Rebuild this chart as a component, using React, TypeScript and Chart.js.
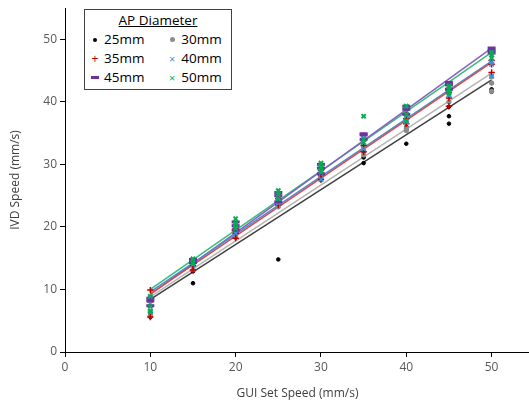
import React, { useEffect, useRef } from "react";
import { Chart, registerables } from "chart.js";

Chart.register(...registerables);

const SET_SPEEDS = [10, 15, 20, 25, 30, 35, 40, 45, 50];
const SERIES_NAMES = ["25mm", "30mm", "35mm", "40mm", "45mm", "50mm"];

// Measured IVD speeds (replicates) for each set speed
const D25 = [[5.6, 6.0, 8.2], [11.0, 12.9, 13.0], [18.3, 18.8, 19.0], [14.8, 23.5, 23.8], [27.5, 28.0], [30.2, 31.1, 32.0], [33.3, 35.5, 36.0], [36.5, 37.7, 39.2], [41.6, 42.0, 43.0]];
const D30 = [[5.8, 6.5, 8.5], [13.2, 13.8, 14.2], [18.5, 19.0, 19.5], [23.2, 23.8, 24.3], [27.5, 28.0, 28.5], [31.5, 32.5, 33.0], [35.4, 35.8, 36.8], [40.0, 40.8, 41.5], [41.7, 43.0, 44.0]];
const D35 = [[5.6, 8.0, 9.9], [13.1, 13.8, 14.5], [18.2, 19.0, 19.8], [23.5, 24.0, 24.5], [27.6, 28.2, 29.0], [32.0, 33.0, 33.8], [36.5, 37.3, 38.0], [39.3, 40.6, 41.5], [44.7, 46.0, 46.6]];
const D40 = [[6.5, 7.8, 8.6], [14.0, 14.5], [19.0, 19.8, 20.2], [23.8, 24.4, 25.0], [27.6, 28.5, 29.3], [32.5, 33.5, 34.2], [36.8, 37.8, 38.6], [41.0, 41.8, 42.5], [44.1, 46.0, 46.4]];
const D45 = [[7.4, 8.2, 8.6], [14.3, 14.8], [19.5, 20.2, 20.8], [24.0, 25.0, 25.5], [28.5, 29.4, 30.0], [34.0, 34.7, 34.9], [38.0, 38.8, 39.3], [42.0, 42.7, 43.1], [47.8, 48.2, 48.6]];
const D50 = [[6.5, 7.3, 8.9], [14.2, 14.9], [19.8, 20.5, 21.3], [24.5, 25.2, 25.8], [28.8, 29.5, 30.2], [33.5, 34.0, 37.7], [37.0, 38.0, 39.3], [41.4, 42.0, 42.5], [47.0, 47.5, 47.9]];

// Linear trendline values read at set speed 10 and 50
const TREND_X = [10, 50];
const TREND_AT_10 = [8.4, 8.8, 9.3, 9.6, 9.2, 10.0];
const TREND_AT_50 = [43.5, 44.6, 46.3, 46.5, 48.6, 47.9];

const X_TICKS = [0, 10, 20, 30, 40, 50];
const Y_TICKS = [0, 10, 20, 30, 40, 50];

const SERIES_DATA = [D25, D30, D35, D40, D45, D50];
const MARKER_COLORS = ["#000000", "#8c8c8c", "#c00000", "#3c8fdc", "#7030a0", "#00b050"];
const LINE_COLORS = ["#404040", "#b4b4b4", "#e04848", "#3c93d8", "#8462c2", "#3cba78"];
const MARKER_STYLES = ["circle", "circle", "cross", "crossRot", "line", "crossRot"];
const MARKER_RADII = [1.8, 2.2, 3.2, 3.2, 4, 3];
const MARKER_WIDTHS = [1, 1, 1.5, 1.5, 3, 2];

const FONT = "'Open Sans', 'Liberation Sans', sans-serif";

export default function App() {
  const ref = useRef<HTMLCanvasElement | null>(null);

  useEffect(() => {
    if (!ref.current) return;
    const datasets: any[] = [];
    SERIES_DATA.forEach((series, i) => {
      datasets.push({
        type: "line",
        label: SERIES_NAMES[i] + " trend",
        data: TREND_X.map((x, k) => ({ x, y: k === 0 ? TREND_AT_10[i] : TREND_AT_50[i] })),
        borderColor: LINE_COLORS[i],
        borderWidth: 1.5,
        pointRadius: 0,
        showLine: true,
        fill: false,
        order: 10 + i,
      });
    });
    SERIES_DATA.forEach((series, i) => {
      const pts: { x: number; y: number }[] = [];
      series.forEach((vals, k) => vals.forEach((v) => pts.push({ x: SET_SPEEDS[k], y: v })));
      datasets.push({
        type: "scatter",
        label: SERIES_NAMES[i],
        data: pts,
        pointStyle: MARKER_STYLES[i],
        pointRadius: MARKER_RADII[i],
        pointBorderWidth: MARKER_WIDTHS[i],
        borderColor: MARKER_COLORS[i],
        backgroundColor: MARKER_COLORS[i],
        showLine: false,
        order: 6 - i,
      });
    });

    const chart = new Chart(ref.current, {
      type: "scatter",
      data: { datasets },
      options: {
        animation: false,
        responsive: false,
        maintainAspectRatio: false,
        layout: { padding: { top: 8, right: 0, left: 0, bottom: 0 } },
        plugins: { legend: { display: false }, tooltip: { enabled: false } },
        scales: {
          x: {
            type: "linear",
            min: 0,
            max: 54.5,
            afterBuildTicks: (s: any) => {
              s.ticks = X_TICKS.map((v) => ({ value: v }));
            },
            afterFit: (s: any) => {
              s.height = 52;
              s.paddingRight = 0;
              s.paddingLeft = 0;
            },
            ticks: { color: "#595959", font: { family: FONT, size: 12 }, padding: 3 },
            grid: { display: true, drawOnChartArea: false, drawTicks: true, tickLength: 5, color: "#000" },
            border: { display: true, color: "#000", width: 1 },
            title: { display: true, text: "GUI Set Speed (mm/s)", color: "#404040", font: { family: FONT, size: 12 }, padding: { top: 2, bottom: 3 } },
          },
          y: {
            type: "linear",
            min: 0,
            max: 55,
            afterBuildTicks: (s: any) => {
              s.ticks = Y_TICKS.map((v) => ({ value: v }));
            },
            afterFit: (s: any) => {
              s.width = 65;
              s.paddingTop = 0;
              s.paddingBottom = 0;
            },
            ticks: { color: "#595959", font: { family: FONT, size: 12 }, padding: 3 },
            grid: { display: true, drawOnChartArea: false, drawTicks: true, tickLength: 5, color: "#000" },
            border: { display: true, color: "#000", width: 1 },
            title: { display: true, text: "IVD Speed (mm/s)", color: "#404040", font: { family: FONT, size: 12 }, padding: { top: 8, bottom: 4 } },
          },
        },
      },
    });
    return () => chart.destroy();
  }, []);

  const legendRows = [
    [0, 1],
    [2, 3],
    [4, 5],
  ];

  const markerEl = (i: number) => {
    const c = MARKER_COLORS[i];
    const st = MARKER_STYLES[i];
    if (st === "circle") {
      const d = i === 0 ? 4 : 5;
      return <span style={{ display: "inline-block", width: d, height: d, borderRadius: "50%", background: c }} />;
    }
    if (st === "line") {
      return <span style={{ display: "inline-block", width: 8, height: 3, background: c }} />;
    }
    return (
      <span style={{ color: c, fontSize: st === "cross" ? 12 : 11, fontFamily: FONT, lineHeight: "10px" }}>
        {st === "cross" ? "+" : "×"}
      </span>
    );
  };

  return (
    <div style={{ position: "fixed", left: 0, top: 0, width: 529, height: 404, background: "#fff", overflow: "hidden" }}>
      <canvas ref={ref} width={537} height={404} style={{ width: 537, height: 404, display: "block" }} />
      <div
        style={{
          position: "absolute",
          left: 84,
          top: 9,
          width: 146,
          height: 79,
          border: "1px solid #404040",
          background: "#fff",
          fontFamily: FONT,
          fontSize: 13.5,
          color: "#000",
        }}
      >
        <div style={{ textAlign: "center", textDecoration: "underline", marginTop: 1, height: 19, lineHeight: "19px" }}>AP Diameter</div>
        {legendRows.map((row, r) => (
          <div key={r} style={{ display: "flex", height: 19, lineHeight: "19px" }}>
            {row.map((i, c) => (
              <div key={i} style={{ display: "flex", alignItems: "center", width: c === 0 ? 80 : 66, paddingLeft: c === 0 ? 5 : 0 }}>
                <span style={{ width: 10, display: "inline-flex", justifyContent: "center", alignItems: "center" }}>{markerEl(i)}</span>
                <span style={{ marginLeft: 4 }}>{SERIES_NAMES[i]}</span>
              </div>
            ))}
          </div>
        ))}
      </div>
    </div>
  );
}
